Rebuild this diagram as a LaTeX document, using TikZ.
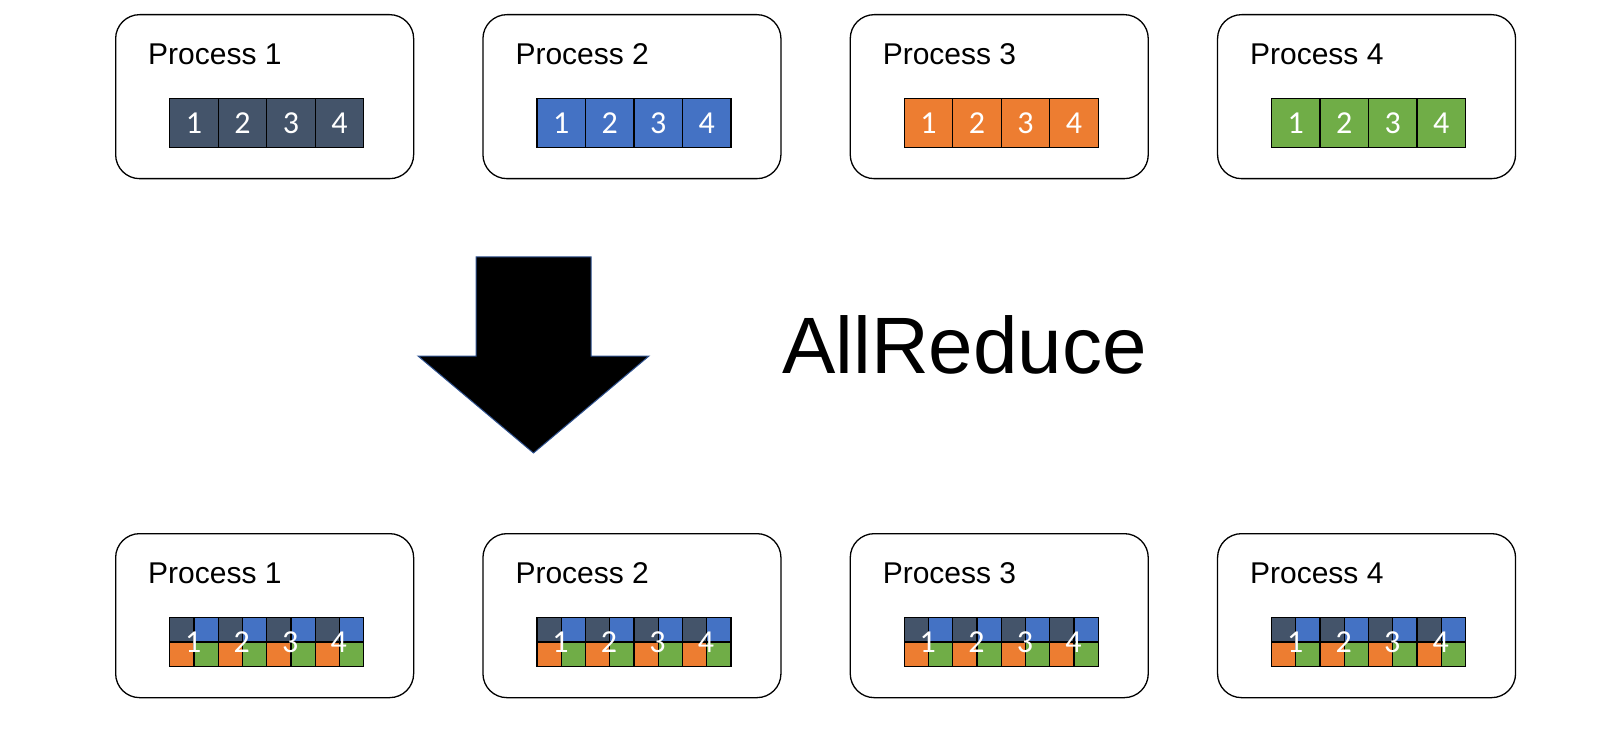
\documentclass[tikz,border=0pt]{standalone}
\usepackage{fontspec}
\setmainfont{Liberation Sans}
\newfontfamily\digitfont{Carlito}
\usetikzlibrary{positioning}
\definecolor{slate}{HTML}{44546A}
\definecolor{blu}{HTML}{4472C4}
\definecolor{orng}{HTML}{ED7D31}
\definecolor{grn}{HTML}{70AD47}
\definecolor{arrowedge}{HTML}{2F528F}
\tikzset{
  procbox/.style={draw, line width=1.3pt, rounded corners=24pt, minimum width=298pt,
    minimum height=164pt, inner sep=0pt, anchor=north west},
  proctitle/.style={anchor=base west, inner sep=0pt, font=\fontsize{30}{36}\selectfont},
  datacell/.style={draw, line width=1.3pt, minimum width=48.5pt, minimum height=49pt,
    inner sep=0pt, anchor=north west, text=white, font=\digitfont\fontsize{32}{38}\selectfont},
  quad/.style={draw, line width=1.3pt, minimum width=24.25pt, minimum height=24.25pt,
    inner sep=0pt, anchor=north west},
  digit/.style={inner sep=0pt, text=white, font=\digitfont\fontsize{32}{38}\selectfont}
}
\begin{document}
\begin{tikzpicture}[x=1pt,y=-1pt]
  \useasboundingbox (0,0) rectangle (1618,746);
  % before
  \foreach \i/\c in {1/slate,2/blu,3/orng,4/grn} {
    \pgfmathsetmacro\bx{115+367.3*(\i-1)}
    \node[procbox] (top\i) at (\bx,14) {};
    \node[proctitle] (toplabel\i) at (\bx+33,65) {Process \i};
    \foreach \k in {1,...,4}
      \node[datacell, fill=\c] (top\i-\k) at (\bx+54+48.5*\k-48.5,98) {\k};
  }
  % the big arrow
  \draw[draw=arrowedge, line width=1pt, fill=black]
    (476,257) -- (591,257) -- (591,356) -- (649,356) -- (533.5,453)
    -- (418,356) -- (476,356) -- cycle;
  \node[anchor=base west, inner sep=0pt, font=\fontsize{80}{96}\selectfont]
    (allreduce) at (782,373) {AllReduce};
  % after
  \foreach \i in {1,...,4} {
    \pgfmathsetmacro\bx{115+367.3*(\i-1)}
    \node[procbox] (bot\i) at (\bx,533) {};
    \node[proctitle] (botlabel\i) at (\bx+33,583) {Process \i};
    \foreach \k in {1,...,4} {
      \pgfmathsetmacro\cx{\bx+54+48.5*(\k-1)}
      \node[quad, fill=slate] (bot\i-\k-a) at (\cx,617) {};
      \node[quad, fill=blu] (bot\i-\k-b) at (\cx+24.25,617) {};
      \node[quad, fill=orng] (bot\i-\k-c) at (\cx,641.25) {};
      \node[quad, fill=grn] (bot\i-\k-d) at (\cx+24.25,641.25) {};
      \node[digit] (bot\i-\k) at (\cx+24.25,642) {\k};
    }
  }
\end{tikzpicture}
\end{document}
